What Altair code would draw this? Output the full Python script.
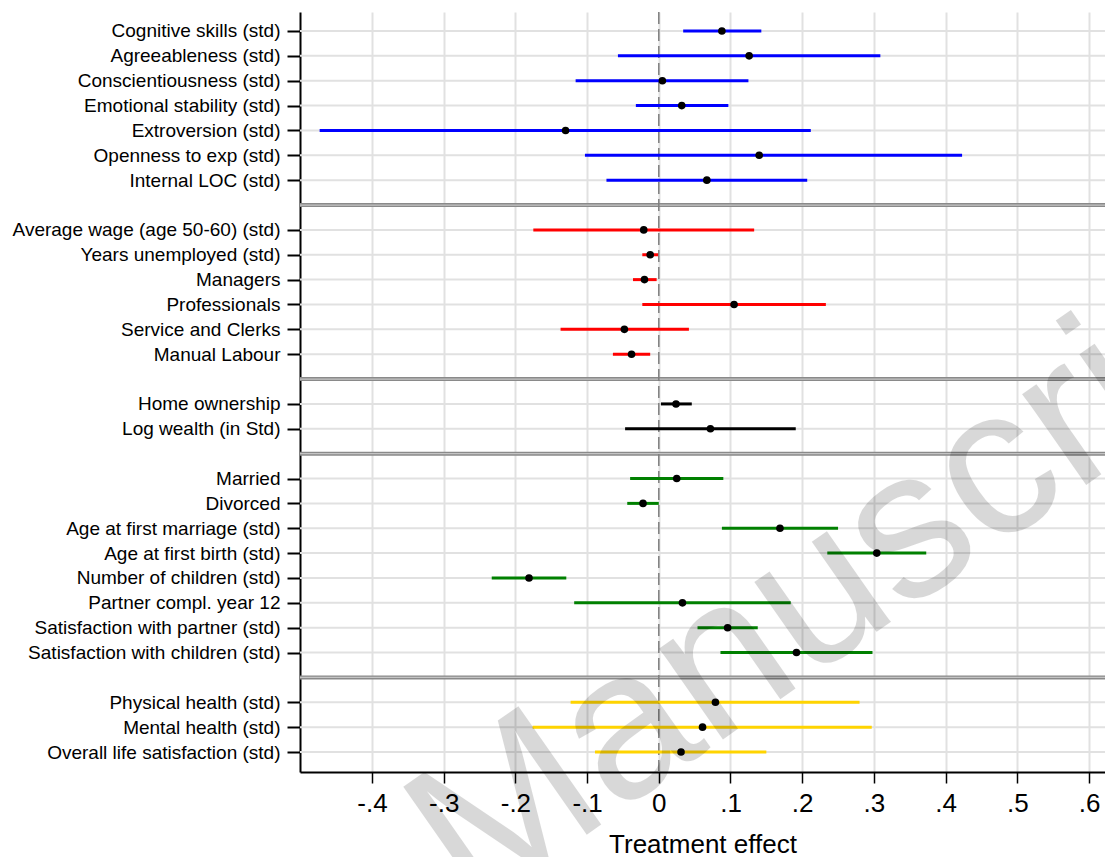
import json
import altair as alt
import pandas as pd

# ---- coefficients (point estimate with 95% CI), top to bottom ----
group_names = ["Skills", "Labour market", "Wealth", "Family", "Health"]
group_colors = ["#0000ff", "#ff0000", "#000000", "#008000", "#ffd400"]

labels = [
    "Cognitive skills (std)", "Agreeableness (std)", "Conscientiousness (std)",
    "Emotional stability (std)", "Extroversion (std)", "Openness to exp (std)",
    "Internal LOC (std)",
    "Average wage (age 50-60) (std)", "Years unemployed (std)", "Managers",
    "Professionals", "Service and Clerks", "Manual Labour",
    "Home ownership", "Log wealth (in Std)",
    "Married", "Divorced", "Age at first marriage (std)", "Age at first birth (std)",
    "Number of children (std)", "Partner compl. year 12",
    "Satisfaction with partner (std)", "Satisfaction with children (std)",
    "Physical health (std)", "Mental health (std)", "Overall life satisfaction (std)",
]
groups = ["Skills"] * 7 + ["Labour market"] * 6 + ["Wealth"] * 2 + ["Family"] * 8 + ["Health"] * 3

estimates = [0.088, 0.126, 0.005, 0.032, -0.130, 0.140, 0.067,
             -0.021, -0.012, -0.020, 0.105, -0.048, -0.038,
             0.024, 0.072,
             0.025, -0.022, 0.169, 0.304, -0.181, 0.033, 0.096, 0.192,
             0.079, 0.061, 0.031]
ci_low = [0.034, -0.057, -0.116, -0.032, -0.473, -0.103, -0.073,
          -0.175, -0.023, -0.036, -0.023, -0.137, -0.064,
          0.003, -0.047,
          -0.040, -0.044, 0.088, 0.235, -0.233, -0.118, 0.054, 0.086,
          -0.123, -0.176, -0.089]
ci_high = [0.143, 0.309, 0.125, 0.097, 0.212, 0.423, 0.207,
           0.133, -0.001, -0.003, 0.233, 0.042, -0.012,
           0.046, 0.191,
           0.090, 0.000, 0.250, 0.373, -0.129, 0.184, 0.138, 0.298,
           0.280, 0.297, 0.150]

x_tick_values = [-0.4, -0.3, -0.2, -0.1, 0.0, 0.1, 0.2, 0.3, 0.4, 0.5, 0.6]
x_tick_labels = ["-.4", "-.3", "-.2", "-.1", "0", ".1", ".2", ".3", ".4", ".5", ".6"]
x_title = "Treatment effect"
watermark = "Manuscript"

# ---- row slots: one blank slot between consecutive groups ----
slots, separators, slot_labels = [], [], []
pos = 0
for i, g in enumerate(groups):
    if i > 0 and g != groups[i - 1]:
        separators.append(pos)
        slot_labels.append("")
        pos += 1
    slots.append(pos)
    slot_labels.append(labels[i])
    pos += 1
n_slots = pos

df = pd.DataFrame({
    "label": labels, "group": groups, "est": estimates,
    "lo": ci_low, "hi": ci_high, "slot": slots,
})
grid_df = pd.DataFrame({"slot": list(range(n_slots))})
sep_df = pd.DataFrame({"slot": separators})
zero_df = pd.DataFrame({"x": [0.0]})
wm_df = pd.DataFrame({"t": [watermark]})

W, H = 805, 760
FONT = "Liberation Sans"

xscale = alt.Scale(domain=[-0.5004, 0.6223], nice=False, zero=False)
yscale = alt.Scale(domain=[-0.764, n_slots - 1 + 0.804], reverse=True, nice=False, zero=False)

y_label_expr = json.dumps(slot_labels) + "[round(datum.value)]"
x_label_expr = json.dumps(x_tick_labels) + "[round((datum.value + 0.4) * 10)]"

x_axis = alt.Axis(
    values=x_tick_values, labelExpr=x_label_expr, title=x_title,
    grid=True, gridColor="#e1e1e1", gridWidth=2,
    domainColor="black", domainWidth=2,
    tickColor="black", tickWidth=1.5, tickSize=11,
    labelFont=FONT, labelFontSize=26, labelColor="black", labelPadding=7,
    labelFlush=False, labelOverlap=False,
    titleFont=FONT, titleFontSize=26, titleFontWeight="normal", titleColor="black",
    titleBaseline="alphabetic", titleY=80,
)
y_axis = alt.Axis(
    values=slots, labelExpr=y_label_expr, title=None, grid=False,
    domainColor="black", domainWidth=2,
    tickColor="black", tickWidth=2, tickSize=13,
    labelFont=FONT, labelFontSize=19, labelColor="black", labelPadding=7,
    labelLimit=500, labelOverlap=False,
)

color_scale = alt.Scale(domain=group_names, range=group_colors)

Y = alt.Y("slot:Q", scale=yscale, axis=y_axis, title=None)

hgrid = alt.Chart(grid_df).mark_rule(color="#e1e1e1", strokeWidth=2).encode(
    x=alt.value(0), x2=alt.value(W), y=Y,
)

sep_outer = alt.Chart(sep_df).mark_rule(color="#8a8a8a", strokeWidth=4).encode(
    x=alt.value(0), x2=alt.value(W), y=Y,
)
sep_inner = alt.Chart(sep_df).mark_rule(color="#c4c4c4", strokeWidth=1.2).encode(
    x=alt.value(0), x2=alt.value(W), y=Y,
)

zero_line = alt.Chart(zero_df).mark_rule(
    color="#7f7f7f", strokeWidth=1.5, strokeDash=[12, 5]
).encode(
    x=alt.X("x:Q", scale=xscale, axis=x_axis, title=x_title),
    y=alt.value(0), y2=alt.value(H),
)

ci = alt.Chart(df).mark_rule(strokeWidth=3).encode(
    x=alt.X("lo:Q", scale=xscale, axis=x_axis, title=x_title),
    x2="hi:Q",
    y=Y,
    color=alt.Color("group:N", scale=color_scale, legend=None),
)

points = alt.Chart(df).mark_point(filled=True, size=58, color="black", opacity=1).encode(
    x=alt.X("est:Q", scale=xscale, axis=x_axis, title=x_title),
    y=Y,
)

wm = alt.Chart(wm_df).mark_text(
    angle=325, fontSize=210, font=FONT, align="left", baseline="alphabetic",
    color="black", opacity=0.15,
).encode(
    text="t:N",
    x=alt.value(172), y=alt.value(903),
)

chart = alt.layer(hgrid, sep_outer, sep_inner, zero_line, ci, points, wm).properties(
    width=W, height=H,
    padding={"left": 300, "top": 12, "right": 0, "bottom": 85},
    autosize=alt.AutoSizeParams(type="none"),
    background="white",
).configure_view(stroke=None)

chart.save("out.html", embed_options={"renderer": "svg", "actions": False})
